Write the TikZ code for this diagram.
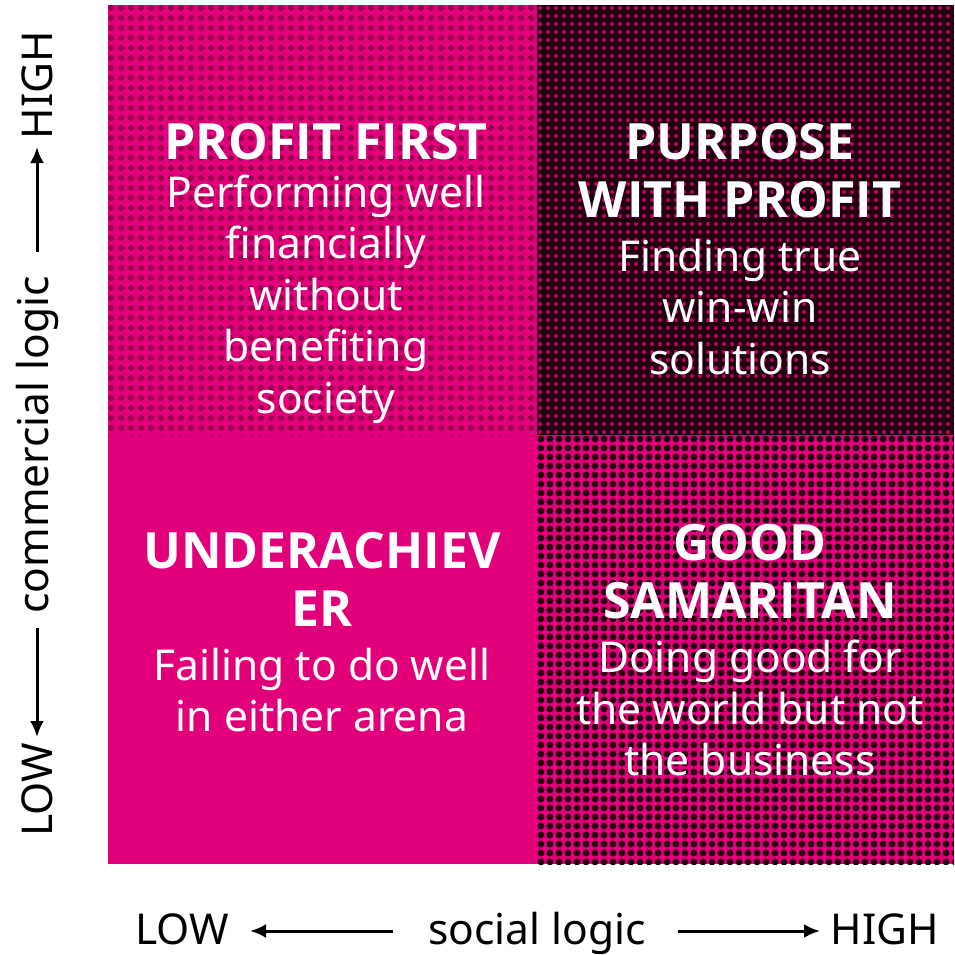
\documentclass[tikz,border=0pt]{standalone}
\usepackage{fontspec}
\setmainfont{Noto Sans}
\newfontfamily\headfont{Open Sans}
\usetikzlibrary{arrows.meta}

\definecolor{pinkbase}{RGB}{226,0,122}
\definecolor{pinkdot}{RGB}{150,0,78}
\definecolor{darkbase}{RGB}{32,0,14}
\definecolor{darkpink}{RGB}{196,0,98}
\definecolor{blackdot}{RGB}{38,0,18}

\begin{document}
\begin{tikzpicture}
[x=1pt,y=-1pt,
  quadTitle/.style={text=white,align=center,font=\headfont\bfseries\fontsize{50}{58}\selectfont},
  quadBody/.style={text=white,align=center,font=\fontsize{42.5}{51.5}\selectfont},
  axisLabel/.style={text=black,font=\fontsize{42.5}{50}\selectfont,inner sep=0pt},
  axisArrow/.style={-{Latex[length=16pt,width=14pt]},line width=3pt}]
\useasboundingbox[fill=white] (0,0) rectangle (954,955);
%% quadrant backgrounds
\fill[pinkbase] (108,5) rectangle (537,435);
\fill[darkbase] (537,5) rectangle (954,435);
\fill[pinkbase] (108,435) rectangle (537,864);
\fill[pinkbase] (537,435) rectangle (954,864);
%% halftone dots
\begin{scope}
  \clip (108,5) rectangle (537,435);
  \foreach \y in {8,18,...,438}
    \fill[pinkdot] \foreach \x in {111,121,...,541} {(\x,\y) circle (3)};
\end{scope}
\begin{scope}
  \clip (537,5) rectangle (954,435);
  \foreach \y in {8,16,...,440}
    \fill[darkpink] \foreach \x in {540,548,...,958} {(\x,\y) circle (2)};
\end{scope}
\begin{scope}
  \clip (537,435) rectangle (954,864);
  \foreach \y in {439,448,...,868}
    \fill[blackdot] \foreach \x in {541,550,...,958} {(\x,\y) circle (3.4)};
\end{scope}
%% quadrant texts
\node (tlTitle) at (326,142) [quadTitle] {PROFIT FIRST};
\node (tlBody) at (326,299) [quadBody] {Performing well\\financially\\without\\benefiting\\society};
\node (trTitle) at (740,171) [quadTitle] {PURPOSE\\WITH PROFIT};
\node (trBody) at (740,307) [quadBody] {Finding true\\win-win\\solutions};
\node (blTitle) at (322,579) [quadTitle] {UNDERACHIEV\\ER};
\node (blBody) at (322,690) [quadBody] {Failing to do well\\in either arena};
\node (brTitle) at (750,572) [quadTitle] {GOOD\\SAMARITAN};
\node (brBody) at (750,708) [quadBody] {Doing good for\\the world but not\\the business};
%% axis labels
\node (yHigh) at (37,85) [axisLabel,rotate=90] {HIGH};
\node (yName) at (37,445) [axisLabel,rotate=90] {commercial logic};
\node (yLow) at (37,790) [axisLabel,rotate=90] {LOW};
\node (xLow) at (182,944) [axisLabel,anchor=base] {LOW};
\node (xName) at (537,944) [axisLabel,anchor=base] {social logic};
\node (xHigh) at (885,944) [axisLabel,anchor=base] {HIGH};
%% axis arrows
\coordinate (yUpStart) at (37,252);
\coordinate (yUpEnd) at (37,147);
\coordinate (yDownStart) at (37,628);
\coordinate (yDownEnd) at (37,737);
\coordinate (xLeftStart) at (393,931);
\coordinate (xLeftEnd) at (250,931);
\coordinate (xRightStart) at (678,931);
\coordinate (xRightEnd) at (820,931);
\draw[axisArrow] (yUpStart) -- (yUpEnd);
\draw[axisArrow] (yDownStart) -- (yDownEnd);
\draw[axisArrow] (xLeftStart) -- (xLeftEnd);
\draw[axisArrow] (xRightStart) -- (xRightEnd);
\end{tikzpicture}
\end{document}
